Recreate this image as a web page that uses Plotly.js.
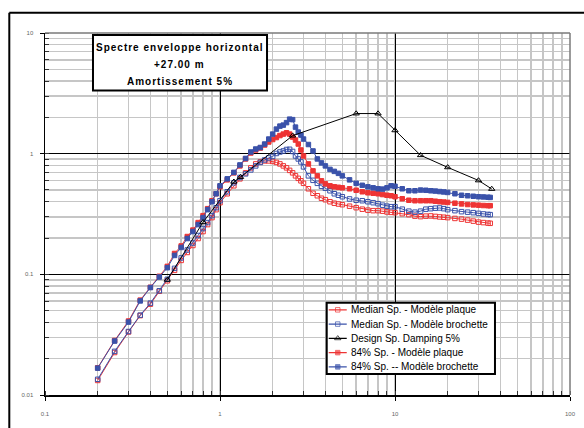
<!DOCTYPE html>
<html><head><meta charset="utf-8">
<script src="https://cdn.plot.ly/plotly-3.0.1.min.js"></script>
<style>html,body{margin:0;padding:0;background:#fff}#chart{width:584px;height:428px}</style>
</head><body><div id="chart"></div>
<script>
// Frequencies (Hz) of the computed spectra
const freq = [0.2,0.25,0.3,0.35,0.4,0.45,0.5,0.55,0.6,0.65,0.7,0.75,0.8,0.85,0.9,0.95,1.0,
  1.1,1.2,1.3,1.4,1.5,1.6,1.7,1.8,1.9,2.0,2.1,2.2,2.3,2.4,2.5,2.6,2.7,2.8,2.9,3.0,
  3.2,3.4,3.6,3.8,4.0,4.25,4.5,4.75,5.0,
  5.5,6.0,6.5,7.0,7.5,8.0,8.5,9.0,9.5,10,
  11,12,13,14,15,16,17,18,19,20,
  22,24,26,28,30,32,34,35];

// Median Sp. - Modèle plaque
const medianPlaque = [0.0132,0.0225,0.0333,0.0455,0.0566,0.0724,0.0884,0.1079,0.1304,0.1518,0.1734,0.1980,0.2262,0.2584,0.2951,0.3434,0.3923,
  0.4654,0.5417,0.6186,0.6934,0.7626,0.8223,0.8543,0.8707,0.8707,0.8624,0.8463,0.8223,0.7918,0.7626,0.7268,0.6934,0.6549,0.6244,0.5956,0.5679,
  0.5117,0.4697,0.4479,0.4272,0.4152,0.3997,0.3885,0.3826,0.3776,
  0.3670,0.3567,0.3467,0.3402,0.3370,0.3370,0.3338,0.3288,0.3262,0.3244,
  0.3183,0.3123,0.3036,0.3008,0.3036,0.3047,0.3019,0.2990,0.2973,0.2951,
  0.2906,0.2868,0.2814,0.2761,0.2709,0.2684,0.2658,0.2648];

// Median Sp. - Modèle brochette
const medianBrochette = [0.0135,0.0230,0.0336,0.0459,0.0577,0.0731,0.0910,0.1121,0.1368,0.1592,0.1818,0.2097,0.2394,0.2684,0.3064,0.3567,0.4074,
  0.4832,0.5734,0.6350,0.6803,0.7337,0.7918,0.8463,0.8872,0.9217,0.9483,1.004,1.033,1.053,1.083,1.087,1.043,0.9572,0.9043,0.8543,0.7771,
  0.6549,0.6013,0.5679,0.5366,0.5165,0.4927,0.4654,0.4522,0.4396,
  0.4215,0.4112,0.4074,0.3997,0.3923,0.3849,0.3741,0.3670,0.3636,0.3636,
  0.3467,0.3338,0.3275,0.3338,0.3467,0.3501,0.3534,0.3548,0.3501,0.3434,
  0.3370,0.3306,0.3275,0.3244,0.3201,0.3165,0.3135,0.3123];

// 84% Sp. - Modèle plaque
const p84Plaque = [0.0168,0.0283,0.0410,0.0611,0.0781,0.0963,0.1164,0.1489,0.1718,0.2057,0.2327,0.2684,0.3064,0.3501,0.4074,0.4654,0.5313,
  0.6070,0.6934,0.7918,0.9043,1.013,1.073,1.114,1.180,1.249,1.310,1.360,1.413,1.453,1.490,1.453,1.373,1.297,1.202,1.073,0.9572,
  0.8223,0.7202,0.6549,0.5956,0.5625,0.5417,0.5313,0.5263,0.5212,
  0.5117,0.4973,0.4833,0.4742,0.4697,0.4653,0.4583,0.4522,0.4479,0.4396,
  0.4231,0.4112,0.4074,0.4074,0.4074,0.4074,0.4035,0.3997,0.3974,0.3945,
  0.3885,0.3834,0.3790,0.3761,0.3741,0.3719,0.3705,0.3705];

// 84% Sp. -- Modèle brochette
const p84Brochette = [0.0167,0.0280,0.0402,0.0602,0.0777,0.0950,0.1135,0.1434,0.1670,0.1980,0.2262,0.2584,0.2950,0.3434,0.3997,0.4654,0.5417,
  0.6186,0.6998,0.8068,0.9129,1.033,1.093,1.125,1.202,1.322,1.453,1.598,1.692,1.724,1.808,1.932,1.914,1.660,1.510,1.426,1.322,
  1.191,1.053,0.9043,0.8381,0.7918,0.7407,0.7134,0.6869,0.6549,
  0.6070,0.5679,0.5468,0.5313,0.5212,0.5117,0.5087,0.5212,0.5417,0.5366,
  0.5117,0.4927,0.4927,0.4993,0.4973,0.4927,0.4898,0.4852,0.4816,0.4771,
  0.4655,0.4522,0.4479,0.4437,0.4396,0.4379,0.4354,0.4338];

// Design Sp. Damping 5%
const designFreq = [0.5,0.8,1.2,1.31,2.6,6.0,8.0,10,14,20,30,35.7];
const designSa   = [0.09,0.27,0.585,0.64,1.41,2.15,2.15,1.56,0.97,0.77,0.60,0.51];

const seriesNames = ["Median Sp. - Modèle plaque","Median Sp. - Modèle brochette","Design Sp. Damping 5%","84% Sp. - Modèle plaque","84% Sp. -- Modèle brochette"];
const titleLines = ["Spectre enveloppe horizontal","+27.00 m","Amortissement 5%"];

const RED = '#ee3434', BLUE = '#3a52aa', BLACK = '#000000';
const styles = [
  {color: RED,   symbol: 'square-open', size: 4.5},
  {color: BLUE,  symbol: 'square-open', size: 4.5},
  {color: BLACK, symbol: 'triangle-up-open', size: 5.5},
  {color: RED,   symbol: 'square', size: 4.5},
  {color: BLUE,  symbol: 'square', size: 4.5}
];
const xs = [freq, freq, designFreq, freq, freq];
const ys = [medianPlaque, medianBrochette, designSa, p84Plaque, p84Brochette];
const order = [0,1,3,4,2];

const FONT = 'Liberation Sans, Arial, sans-serif';
const traces = [];
order.forEach(i => {
  traces.push({
    x: xs[i], y: ys[i], type: 'scatter', mode: 'lines+markers', name: seriesNames[i],
    line: {color: styles[i].color, width: 1},
    marker: {symbol: styles[i].symbol, size: styles[i].size, color: styles[i].color, line: {color: styles[i].color, width: 1}},
    showlegend: false, hoverinfo: 'skip', xaxis: 'x', yaxis: 'y'
  });
});

// custom legend drawn in its own small subplot
const LW = 168, LH = 71;
traces.push({x: [0, LW, LW, 0], y: [0, 0, LH, LH], type: 'scatter', mode: 'lines', fill: 'toself',
  fillcolor: '#ffffff', line: {width: 0, color: '#ffffff'}, xaxis: 'x2', yaxis: 'y2', showlegend: false, hoverinfo: 'skip'});
const annotations = [];
seriesNames.forEach((nm, i) => {
  const yy = LH - 7.1 - i * 14.2;
  traces.push({x: [2, 11, 20], y: [yy, yy, yy], type: 'scatter', mode: 'lines+markers',
    line: {color: styles[i].color, width: 1.2},
    marker: {symbol: styles[i].symbol, size: [0, styles[i].size, 0], color: styles[i].color, line: {color: styles[i].color, width: 1}},
    xaxis: 'x2', yaxis: 'y2', showlegend: false, hoverinfo: 'skip'});
  annotations.push({xref: 'x2', yref: 'y2', x: 22, y: yy, xanchor: 'left', yanchor: 'middle', showarrow: false,
    text: nm, font: {family: FONT, size: 10, color: '#000'}});
});

const titleY = [0.9586, 0.9130, 0.8660];
titleLines.forEach((t, i) => {
  annotations.push({xref: 'paper', yref: 'paper', x: 0.2571, y: titleY[i], xanchor: 'center', yanchor: 'middle',
    showarrow: false, text: '<b>' + t + '</b>', font: {family: FONT, size: 10, color: '#000'}});
});

const axBase = {
  type: 'log', dtick: 1, ticks: 'outside', ticklen: 4, tickwidth: 1, tickcolor: '#000',
  showline: true, linecolor: '#000', linewidth: 1.5, mirror: false,
  showgrid: true, gridcolor: '#000', gridwidth: 1, zeroline: false,
  tickfont: {family: FONT, size: 6, color: '#666'},
  minor: {dtick: 'D1', showgrid: true, gridcolor: '#c6c6c6', gridwidth: 1.5, ticks: 'inside', ticklen: 4, tickcolor: '#333', tickwidth: 1}
};

const layout = {
  width: 584, height: 428, margin: {l: 45, r: 14, t: 33, b: 33},
  paper_bgcolor: '#fff', plot_bgcolor: '#fff', showlegend: false,
  xaxis: Object.assign({}, axBase, {range: [-1, 2], ticklabelstandoff: 8}),
  yaxis: Object.assign({}, axBase, {range: [-2, 1], ticklabelstandoff: 5}),
  xaxis2: {domain: [0.5366, 0.8571], range: [0, LW], visible: false, fixedrange: true, anchor: 'y2'},
  yaxis2: {domain: [0.0580, 0.2550], range: [0, LH], visible: false, fixedrange: true, anchor: 'x2'},
  annotations: annotations,
  shapes: [
    // grey top/right border of plot area
    {type: 'line', xref: 'paper', yref: 'paper', x0: 0, x1: 1, y0: 1, y1: 1, line: {color: '#7a7a7a', width: 1.5}, layer: 'above'},
    {type: 'line', xref: 'paper', yref: 'paper', x0: 1, x1: 1, y0: 0, y1: 1, line: {color: '#7a7a7a', width: 1.5}, layer: 'above'},
    // outer frame
    {type: 'line', xref: 'paper', yref: 'paper', x0: -0.068, x1: 1.2, y0: 1.0561, y1: 1.0561, line: {color: '#000', width: 2}, layer: 'above'},
    {type: 'line', xref: 'paper', yref: 'paper', x0: -0.068, x1: -0.068, y0: 1.0561, y1: -0.2, line: {color: '#000', width: 2}, layer: 'above'},
    // title box
    {type: 'rect', xref: 'paper', yref: 'paper', x0: 0.0914, x1: 0.4229, y0: 0.8412, y1: 0.9945, fillcolor: '#fff', line: {color: '#000', width: 2}, layer: 'above'},
    // legend border
    {type: 'rect', xref: 'paper', yref: 'paper', x0: 0.5366, x1: 0.8571, y0: 0.0580, y1: 0.2550, fillcolor: 'rgba(0,0,0,0)', line: {color: '#000', width: 2}, layer: 'above'}
  ]
};

Plotly.newPlot('chart', traces, layout, {staticPlot: true}).then(gd => {
  gd.querySelectorAll('.annotation-text').forEach(t => {
    if (titleLines.indexOf(t.textContent) >= 0) t.setAttribute('letter-spacing', '1px');
  });
});
</script></body></html>
